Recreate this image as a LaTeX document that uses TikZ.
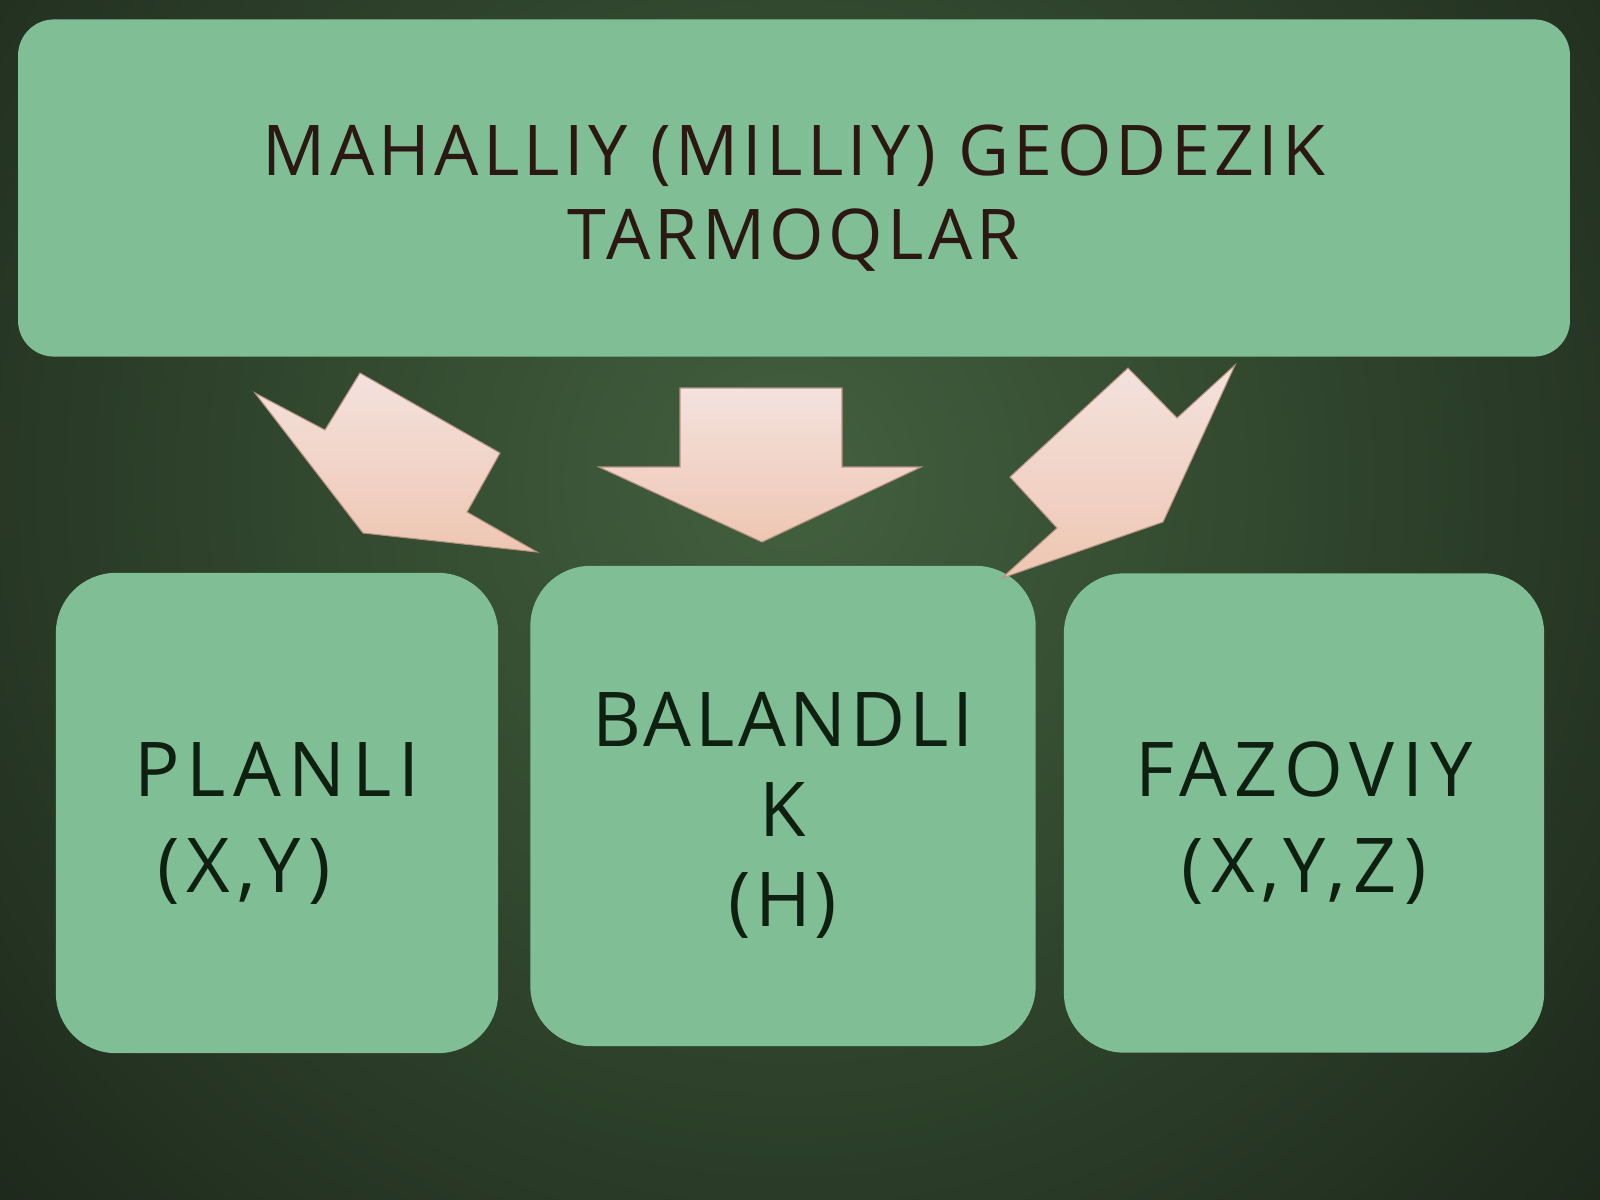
\documentclass[tikz,border=0pt]{standalone}
\usepackage{fontspec}
\setmainfont{Open Sans}
\newfontfamily\topface[LetterSpace=6.2]{Open Sans}
\newfontfamily\boxface[LetterSpace=9.5]{Open Sans}
\newfontfamily\midface[LetterSpace=5]{Open Sans}

\definecolor{bgin}{HTML}{42603E}
\definecolor{bgout}{HTML}{111610}
\definecolor{boxgreen}{HTML}{80BE96}
\definecolor{toptext}{HTML}{2B1812}
\definecolor{boxtext}{HTML}{0F2010}
\definecolor{arrowtop}{HTML}{F4E2DE}
\definecolor{arrowbot}{HTML}{EEC6B2}
\definecolor{arrowedge}{HTML}{B89484}

\tikzset{
  every box/.style={fill=boxgreen, inner sep=0pt, rounded corners=0.6cm},
  box top/.style={rounded corners=0.36cm,
    minimum width=15.51cm, minimum height=3.37cm},
  box text/.style={align=center, inner sep=0pt, text=boxtext,
    font=\boxface\fontsize{21.5}{27.3}\selectfont},
  top text/.style={align=center, inner sep=0pt, text=toptext,
    font=\topface\fontsize{19.9}{24}\selectfont},
  block arrow/.style={top color=arrowtop, bottom color=arrowbot,
    draw=arrowedge, line width=0.3pt, line join=miter}
}

\begin{document}
\begin{tikzpicture}[x=0.01cm, y=-0.01cm]

\useasboundingbox (0,0) rectangle (1600,1200);
\clip (0,0) rectangle (1600,1200);
\shade [inner color=bgin, outer color=bgout] (790,480) circle (1450);

% top box
\node [every box, box top] (network) at (794,188) {};
\node [top text] (network-text) at ([yshift=-0.1cm]network.center)
  {MAHALLIY (MILLIY) GEODEZIK\\TARMOQLAR};

% three kinds
\node [every box, minimum width=4.42cm, minimum height=4.8cm] (planli) at (277,813) {};
\node [every box, minimum width=5.05cm, minimum height=4.8cm] (balandlik) at (783,806) {};
\node [every box, minimum width=4.8cm, minimum height=4.79cm] (fazoviy) at (1304,813) {};

\node [box text] (planli-text) at ([yshift=-0.1cm]planli.center)
  {PLANLI\\\hbox{(X,Y)\kern0.66cm}};
\node [box text, font=\midface\fontsize{21.5}{25.6}\selectfont] (balandlik-text)
  at ([yshift=-0.09cm]balandlik.center) {BALANDLI\\K\\(H)};
\node [box text] (fazoviy-text) at ([yshift=-0.1cm]fazoviy.center)
  {FAZOVIY\\(X,Y,Z)};

% arrows
\shade [block arrow] (255,393) -- (325,430) -- (360,373) -- (500,453)
  -- (467,512) -- (537,552) -- (363,533) -- cycle;
\shade [block arrow] (680,388) -- (842,388) -- (842,467) -- (921,467)
  -- (762,542) -- (599,467) -- (680,467) -- cycle;
\shade [block arrow] (1128,368) -- (1177,418) -- (1235,365) -- (1163,522)
  -- (1002,578) -- (1057,528) -- (1010,477) -- cycle;

\end{tikzpicture}
\end{document}
